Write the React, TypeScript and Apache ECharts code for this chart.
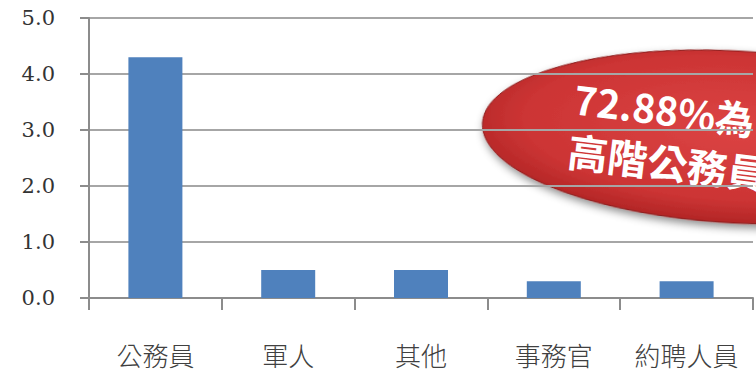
import React, { useEffect, useRef } from "react";
import * as echarts from "echarts";

const categories = ["公務員", "軍人", "其他", "事務官", "約聘人員"];
const values = [4.3, 0.5, 0.5, 0.3, 0.3];
const yTicks = [0, 1, 2, 3, 4, 5];
const calloutLines = ["72.88%為", "高階公務員"];

export default function App() {
  const ref = useRef<HTMLDivElement>(null);
  useEffect(() => {
    if (!ref.current) return;
    const chart = echarts.init(ref.current, null, { renderer: "svg" });
    chart.setOption({
      animation: false,
      backgroundColor: "#ffffff",
      grid: { left: 89, right: 3, top: 18, bottom: 79, containLabel: false },
      xAxis: {
        type: "category",
        data: categories,
        axisLine: { lineStyle: { color: "#8c8c8c", width: 2 } },
        axisTick: { show: true, interval: 0, length: 12, lineStyle: { color: "#8c8c8c", width: 2 } },
        axisLabel: {
          interval: 0,
          hideOverlap: false,
          margin: 43,
          fontSize: 26,
          color: "#404040",
          fontFamily: "Noto Sans CJK TC",
          fontWeight: 300,
        },
      },
      yAxis: {
        type: "value",
        min: yTicks[0],
        max: yTicks[yTicks.length - 1],
        interval: 1,
        axisLine: { show: true, lineStyle: { color: "#8c8c8c", width: 2 } },
        axisTick: { show: true, length: 9, lineStyle: { color: "#8c8c8c", width: 2 } },
        splitLine: { lineStyle: { color: "#a6a6a6", width: 2 } },
        axisLabel: {
          margin: 34,
          fontSize: 21,
          color: "#333333",
          fontFamily: "'DejaVu Serif', serif",
          formatter: (v: number) => v.toFixed(1),
        },
      },
      series: [
        {
          type: "bar",
          data: values,
          barWidth: 54,
          itemStyle: { color: "#4f81bd" },
        },
      ],
      graphic: [
        {
          type: "ellipse",
          x: 736,
          y: 137,
          rotation: -0.055,
          shape: { cx: 0, cy: 0, rx: 254, ry: 86 },
          style: {
            fill: new echarts.graphic.RadialGradient(0.5, 0.45, 0.6, [
              { offset: 0, color: "#dc4444" },
              { offset: 0.7, color: "#cc3434" },
              { offset: 1, color: "#a82020" },
            ]),
            stroke: "#8a1a1a",
            lineWidth: 1,
            shadowBlur: 8,
            shadowColor: "rgba(0,0,0,0.45)",
            shadowOffsetX: 2,
            shadowOffsetY: 4,
          },
        },
        {
          type: "group",
          x: 577,
          y: 78,
          rotation: -0.12,
          children: [
            {
              type: "text",
              x: 0,
              y: 0,
              style: {
                text: calloutLines[0],
                fill: "#ffffff",
                font: "bold 39px 'Noto Sans CJK TC'",
                textVerticalAlign: "top",
              },
            },
            {
              type: "text",
              x: 0,
              y: 52,
              style: {
                text: calloutLines[1],
                fill: "#ffffff",
                font: "bold 40px 'Noto Sans CJK TC'",
                textVerticalAlign: "top",
              },
            },
          ],
        },
      ],
    });
    return () => chart.dispose();
  }, []);
  return (
    <div
      ref={ref}
      style={{ position: "fixed", left: 0, top: 0, width: 756, height: 377 }}
    />
  );
}
